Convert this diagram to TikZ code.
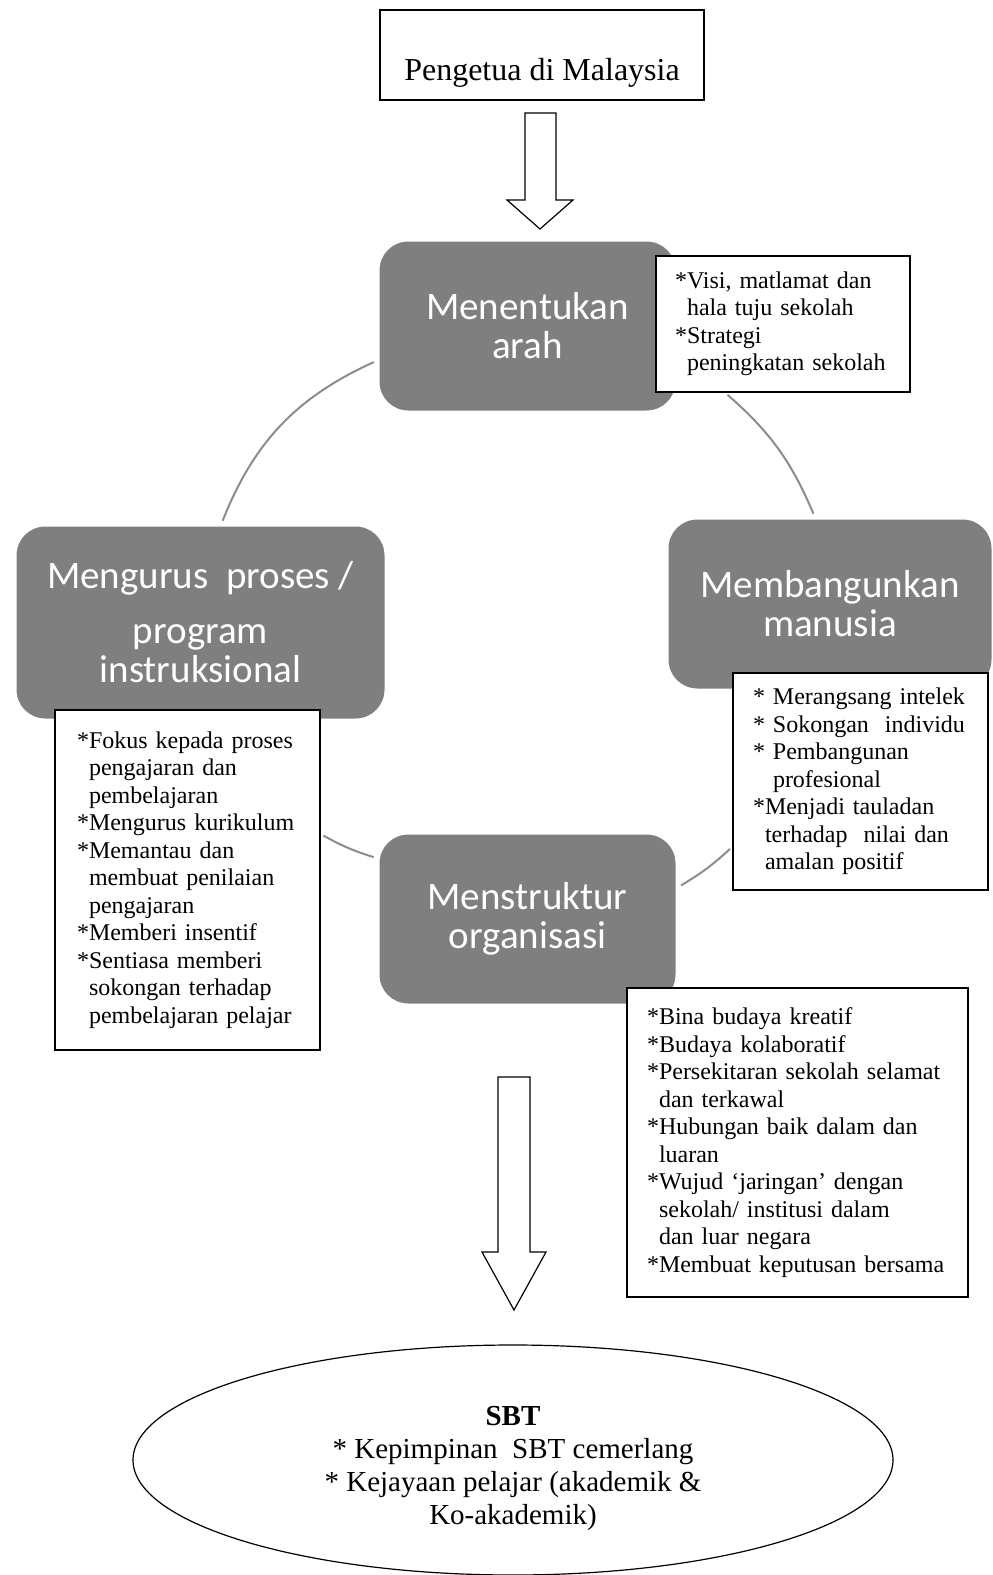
\documentclass[tikz,border=0pt]{standalone}
\usepackage{fontspec}
\setmainfont{Liberation Serif}
\newfontfamily\calibri{Carlito}
\usepackage{xcolor}
\usetikzlibrary{shapes.geometric}
\definecolor{boxgray}{RGB}{127,127,127}
\definecolor{ringgray}{RGB}{140,140,140}

\begin{document}
\begin{tikzpicture}[
  x=0.5pt, y=-0.5pt,
  phase/.style={rectangle, rounded corners=15pt, fill=boxgray, draw=white, line width=1.5pt, text=white, align=center, font=\calibri\fontsize{19.5}{19.5}\selectfont},
  note/.style={rectangle, draw, fill=white, line width=0.8pt, align=left, inner ysep=0pt, font=\fontsize{12}{13.75}\selectfont},
  ring/.style={draw=ringgray, line width=1pt, shorten <=1.5pt, shorten >=1.5pt},
  block/.style={draw, fill=white, line width=0.6pt, line join=miter}
]
\useasboundingbox (0,0) rectangle (992,1575);

% top
\node[rectangle, draw, line width=0.8pt, minimum width=162pt, minimum height=45pt, text height=25pt, text depth=0pt, font=\fontsize{16}{19}\selectfont] (pengetua) at (542,55) {Pengetua di Malaysia};
\draw[block] (525,113) -- (556,113) -- (556,200) -- (573,200) -- (540,229) -- (507,200) -- (525,200) -- cycle;

% four phases
\node[phase, minimum width=149.5pt, minimum height=86pt] (arah) at (527.5,326) {Menentukan\\arah};
\node[phase, minimum width=185.5pt, minimum height=97.5pt] (proses) at (200.5,622.5) {Mengurus\ \ proses /\\[8pt]program\\instruksional};
\node[phase, minimum width=163pt, minimum height=86pt] (manusia) at (830,604) {Membangunkan\\manusia};
\node[phase, minimum width=149.5pt, minimum height=86pt] (organisasi) at (527.5,919) {Menstruktur\\organisasi};

% notes
\node[note, minimum width=127pt, minimum height=68pt, inner xsep=9.5pt, text width=108pt] (visi) at (783,324)
  {*Visi, matlamat dan\\\phantom{*}hala tuju sekolah\\{*}Strategi\\\phantom{*}peningkatan sekolah};
\node[note, minimum width=132.5pt, minimum height=170pt, inner xsep=11pt, text width=110.5pt] (fokus) at (187.5,880)
  {*Fokus kepada proses\\\phantom{*}pengajaran dan\\\phantom{*}pembelajaran\\{*}Mengurus kurikulum\\{*}Memantau dan\\\phantom{*}membuat penilaian\\\phantom{*}pengajaran\\{*}Memberi insentif\\{*}Sentiasa memberi\\\phantom{*}sokongan terhadap\\\phantom{*}pembelajaran pelajar\\[6pt]};
\node[note, minimum width=127.5pt, minimum height=108.5pt, inner xsep=10pt, text width=107.5pt] (intelek) at (860.5,781.5)
  {* Merangsang intelek\\{*} Sokongan\ \ individu\\{*} Pembangunan\\\phantom{*}\ profesional\\{*}Menjadi tauladan\\\phantom{*}terhadap\ \ nilai dan\\\phantom{*}amalan positif};
\node[note, minimum width=170.5pt, minimum height=154.5pt, inner xsep=10pt, text width=150.5pt] (budaya) at (797.5,1142.5)
  {*Bina budaya kreatif\\{*}Budaya kolaboratif\\{*}Persekitaran sekolah selamat\\\phantom{*}dan terkawal\\{*}Hubungan baik dalam dan\\\phantom{*}luaran\\{*}Wujud `jaringan' dengan\\\phantom{*}sekolah/ institusi dalam\\\phantom{*}dan luar negara\\{*}Membuat keputusan bersama};

% ring
\draw[ring] (arah.193) to[bend right=22] (proses.78);
\draw[ring] (visi.230) to[bend left=13] (manusia.100);
\draw[ring] (fokus.19) to[bend right=6] (organisasi.158);
\draw[ring] (organisasi.12) to[bend right=6] (intelek.207);

% result
\draw[block] (498,1077) -- (530,1077) -- (530,1252) -- (546,1252) -- (514,1310) -- (482,1252) -- (498,1252) -- cycle;
\node[ellipse, draw, line width=0.6pt, minimum width=380pt, minimum height=115pt, inner sep=0pt, align=center, font=\fontsize{14.5}{16.5}\selectfont] (sbt) at (513,1460)
  {\rule{0pt}{18pt}\textbf{SBT}\\{*} Kepimpinan\ \ SBT cemerlang\\{*} Kejayaan pelajar (akademik \&\\Ko-akademik)};
\end{tikzpicture}
\end{document}
